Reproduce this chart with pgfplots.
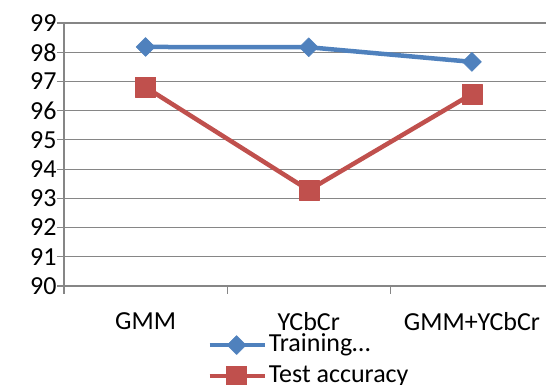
\documentclass[border=0pt]{standalone}
\usepackage{fontspec}
\setmainfont{Carlito}
\usepackage{pgfplots}
\pgfplotsset{compat=1.18}
\definecolor{serblue}{RGB}{79,129,189}
\definecolor{serred}{RGB}{192,80,77}
\definecolor{gridgray}{RGB}{134,134,134}
\begin{document}
\begin{tikzpicture}
\begin{axis}[
  name=ax,
  scale only axis, width=482pt, height=263pt,
  xmin=-0.5, xmax=2.454, ymin=90, ymax=99,
  axis x line*=bottom, axis y line*=left,
  axis line style={draw=gridgray, line width=1.1pt},
  ytick={90,91,...,99},
  xtick={0,1,2}, xticklabels={GMM,YCbCr,GMM+YCbCr},
  minor xtick={-0.5,0.5,1.5},
  tick align=outside, major tick length=7pt, minor tick length=8pt,
  major x tick style={draw=none},
  major y tick style={draw=gridgray, line width=1.1pt},
  minor x tick style={draw=gridgray, line width=1.1pt},
  ymajorgrids, grid style={draw=gridgray, line width=1.1pt},
  tick label style={font=\fontsize{26}{31}\selectfont, text=black},
  xticklabel style={yshift=-16pt},
  yticklabel style={xshift=3pt},
  /pgf/number format/assume math mode=true,
  legend style={
    at={(0.297,-0.165)}, anchor=north west,
    draw=none, fill=none, inner sep=0pt,
    font=\fontsize{26}{31}\selectfont,
    row sep=0pt,
    nodes={inner xsep=2pt, inner ysep=2.5pt, text height=19pt, text depth=7pt},
  },
  legend cell align=left,
  legend image code/.code={
    \draw[mark repeat=2, mark phase=2, #1]
      plot coordinates {(0pt,0pt) (27pt,0pt) (55pt,0pt)};
  },
]
\addplot[serblue, line width=4.5pt, line join=round,
  mark=square*, mark size=6.7pt,
  mark options={rotate=45, line width=0.5pt, fill=serblue}]
  coordinates {(0,98.18) (1,98.17) (2,97.67)};
\addlegendentry{Training…}
\addplot[serred, line width=4.5pt, line join=round,
  mark=square*, mark size=10pt,
  mark options={line width=0.5pt, fill=serred}]
  coordinates {(0,96.8) (1,93.28) (2,96.57)};
\addlegendentry{Test accuracy}
\end{axis}
\pgfresetboundingbox
\useasboundingbox (-64pt,-99pt) rectangle (482pt,286pt);
\end{tikzpicture}
\end{document}
